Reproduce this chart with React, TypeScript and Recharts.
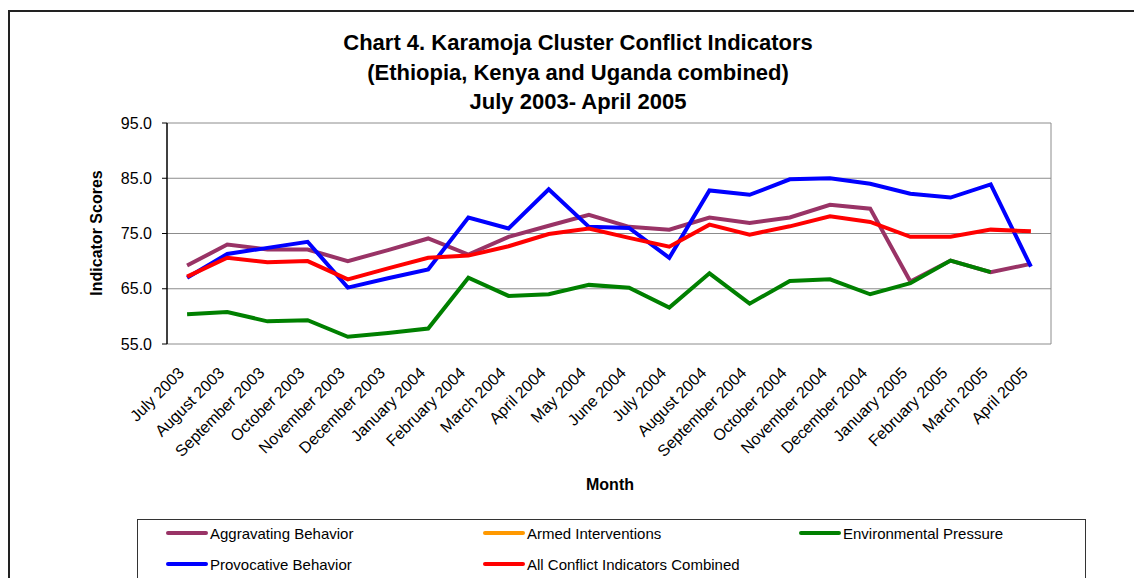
import React from 'react';
import {
  LineChart, Line, XAxis, YAxis, CartesianGrid, ReferenceLine
} from 'recharts';

const months = [
  'July 2003', 'August 2003', 'September 2003', 'October 2003', 'November 2003', 'December 2003',
  'January 2004', 'February 2004', 'March 2004', 'April 2004', 'May 2004', 'June 2004',
  'July 2004', 'August 2004', 'September 2004', 'October 2004', 'November 2004', 'December 2004',
  'January 2005', 'February 2005', 'March 2005', 'April 2005',
];

const aggravating = [69.2, 73.0, 72.1, 72.1, 70.0, 72.0, 74.1, 71.2, 74.4, 76.4, 78.4, 76.2, 75.7, 77.9, 76.9, 77.9, 80.2, 79.5, 66.3, 70.1, 68.0, 69.5];
const armed: (number | null)[] = months.map(() => null);
const environmental: (number | null)[] = [60.4, 60.8, 59.1, 59.3, 56.3, 57.0, 57.8, 67.0, 63.7, 64.0, 65.7, 65.2, 61.6, 67.8, 62.3, 66.4, 66.7, 64.0, 66.0, 70.1, 68.0, null];
const provocative = [67.0, 71.3, 72.4, 73.5, 65.2, 66.9, 68.5, 77.9, 75.9, 83.0, 76.2, 76.0, 70.6, 82.8, 82.0, 84.8, 85.0, 84.0, 82.2, 81.5, 83.9, 69.0];
const combined = [67.2, 70.6, 69.8, 70.0, 66.7, 68.7, 70.6, 71.0, 72.7, 74.9, 75.9, 74.2, 72.6, 76.6, 74.8, 76.3, 78.1, 77.1, 74.4, 74.4, 75.7, 75.4];

const yTicks = [55, 65, 75, 85, 95];

const series = [
  { key: 'agg', name: 'Aggravating Behavior', color: '#993366' },
  { key: 'armed', name: 'Armed Interventions', color: '#FF9900' },
  { key: 'env', name: 'Environmental Pressure', color: '#008000' },
  { key: 'prov', name: 'Provocative Behavior', color: '#0000FF' },
  { key: 'all', name: 'All Conflict Indicators Combined', color: '#FF0000' },
];

const data = months.map((m, i) => ({
  i,
  month: m,
  agg: aggravating[i],
  armed: armed[i],
  env: environmental[i],
  prov: provocative[i],
  all: combined[i],
}));

const centerTicks = months.map((_, i) => i);
const boundaryTicks = [...months.map((_, i) => i - 0.5), months.length - 0.5];

const FONT = 'Arial, "Liberation Sans", sans-serif';

const MonthTick = (props: any) => {
  const { x, y, payload } = props;
  const ax = x - 2;
  const ay = y + 30;
  return (
    <text
      x={ax}
      y={ay}
      transform={`rotate(-45, ${ax}, ${ay})`}
      textAnchor="end"
      fontSize={16}
      fontFamily={FONT}
      fill="#000"
    >
      {months[payload.value]}
    </text>
  );
};

const App: React.FC = () => {
  return (
    <div style={{ position: 'absolute', left: 0, top: 0, width: 1134, height: 578, overflow: 'hidden', background: '#fff', fontFamily: FONT }}>
      <div style={{ position: 'absolute', left: 8, top: 10, width: 1200, height: 700, borderLeft: '2px solid #222', borderTop: '2px solid #222' }} />

      {/* Title */}
      <div style={{ position: 'absolute', left: 8, width: 1140, top: 28, textAlign: 'center', fontWeight: 'bold', fontSize: 22, lineHeight: '29.5px', color: '#000' }}>
        <div>Chart 4. Karamoja Cluster Conflict Indicators</div>
        <div>(Ethiopia, Kenya and Uganda combined)</div>
        <div>July 2003- April 2005</div>
      </div>

      <div style={{ position: 'absolute', left: 0, top: 0 }}>
        <LineChart width={1134} height={578} data={data} margin={{ top: 123, right: 83, left: 107, bottom: 134 }}>
          <CartesianGrid vertical={false} stroke="#8c8c8c" strokeWidth={1} />
          <XAxis
            xAxisId="b"
            type="number"
            dataKey="i"
            domain={[-0.5, months.length - 0.5]}
            allowDataOverflow
            ticks={boundaryTicks}
            tick={false}
            tickSize={5}
            height={0}
            axisLine={{ stroke: '#000', strokeWidth: 1.5 }}
            tickLine={{ stroke: '#000', strokeWidth: 1 }}
          />
          <XAxis
            xAxisId="lab"
            type="number"
            dataKey="i"
            domain={[-0.5, months.length - 0.5]}
            allowDataOverflow
            ticks={centerTicks}
            interval={0}
            tick={<MonthTick />}
            tickSize={0}
            tickMargin={0}
            height={100}
            axisLine={false}
            tickLine={false}
          />
          <YAxis
            domain={[55, 95]}
            ticks={yTicks}
            interval={0}
            width={60}
            tickSize={5}
            tickMargin={10}
            tickFormatter={(v: number) => v.toFixed(1)}
            tick={{ fill: '#000', fontSize: 16, fontFamily: FONT }}
            axisLine={{ stroke: '#000', strokeWidth: 1.5 }}
            tickLine={{ stroke: '#000', strokeWidth: 1 }}
          />
          <ReferenceLine xAxisId="lab" x={months.length - 0.5} stroke="#8c8c8c" strokeWidth={1} ifOverflow="visible" />
          {series.map((s) => (
            <Line
              key={s.key}
              xAxisId="lab"
              type="linear"
              dataKey={s.key}
              name={s.name}
              stroke={s.color}
              strokeWidth={4}
              dot={false}
              isAnimationActive={false}
            />
          ))}
        </LineChart>
      </div>

      {/* Axis titles */}
      <div style={{ position: 'absolute', left: 97, top: 233, transform: 'translate(-50%, -50%) rotate(-90deg)', fontWeight: 'bold', fontSize: 16, whiteSpace: 'nowrap' }}>
        Indicator Scores
      </div>
      <div style={{ position: 'absolute', left: 610, top: 476, transform: 'translateX(-50%)', fontWeight: 'bold', fontSize: 16 }}>
        Month
      </div>

      {/* Legend */}
      <div style={{ position: 'absolute', left: 137, top: 519, width: 949, height: 80, border: '1px solid #333', boxSizing: 'border-box' }}>
        {series.map((s, idx) => {
          const col = idx % 3;
          const row = Math.floor(idx / 3);
          const lefts = [28, 345, 661];
          return (
            <div key={s.key} style={{ position: 'absolute', left: lefts[col], top: 3 + row * 31, height: 20, display: 'flex', alignItems: 'center', fontSize: 15, whiteSpace: 'nowrap' }}>
              <span style={{ display: 'inline-block', width: 42, height: 4, borderRadius: 2, background: s.color, marginRight: 2 }} />
              <span>{s.name}</span>
            </div>
          );
        })}
      </div>
    </div>
  );
};

export default App;
